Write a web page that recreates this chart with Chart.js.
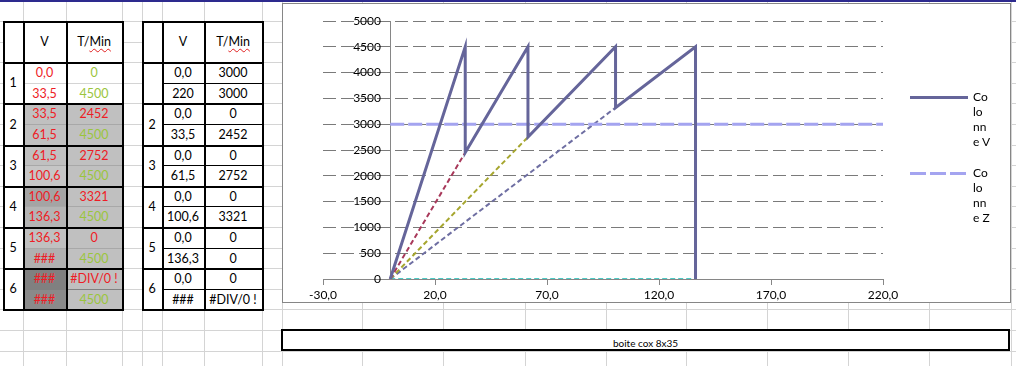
<!DOCTYPE html>
<html>
<head>
<meta charset="utf-8">
<script src="https://cdn.jsdelivr.net/npm/chart.js@4/dist/chart.umd.min.js"></script>
<style>
  body { margin: 0; background: #fff; font-family: Lato, "Noto Sans", sans-serif; }
  #sheet { position: relative; width: 1016px; height: 366px; overflow: hidden; background: #fff; }
  .ln { position: absolute; }
  .cell { position: absolute; display: flex; align-items: center; justify-content: center;
          font-size: 12.5px; color: #000; white-space: nowrap; }
  .sp { text-decoration: underline wavy #e02020; text-decoration-thickness: 1px; text-underline-offset: 2px; }
  #chartBox { position: absolute; left: 282px; top: 3px; width: 727px; height: 298px;
              border: 1px solid #868686; background: #fff; }
  #chartBox canvas { position: absolute; left: 0; top: 0; }
  .leg { position: absolute; font-size: 12px; line-height: 15px; color: #000; }
  #note { position: absolute; left: 281px; top: 329px; width: 725px; height: 18px;
          border: 2px solid #000; background: #fff; font-size: 10px; text-align: center; line-height: 24px; }
</style>
</head>
<body>
<div id="sheet">
  <div id="chartBox"><canvas id="chart" width="727" height="298"></canvas></div>
  <div id="note">boite cox 8x35</div>
</div>
<script>
// --- table contents (left: Colonne V source, right: ray end points) ---
const leftV = ['0,0', '33,5', '33,5', '61,5', '61,5', '100,6', '100,6', '136,3', '136,3', '###', '###', '###'];
const leftT = ['0', '4500', '2452', '4500', '2752', '4500', '3321', '4500', '0', '4500', '#DIV/0 !', '4500'];
const rightV = ['0,0', '220', '0,0', '33,5', '0,0', '61,5', '0,0', '100,6', '0,0', '136,3', '0,0', '###'];
const rightT = ['3000', '3000', '0', '2452', '0', '2752', '0', '3321', '0', '0', '0', '#DIV/0 !'];
const leftNums = ['1', '2', '3', '4', '5', '6'];
const rightNums = ['', '2', '3', '4', '5', '6'];

// --- chart data ---
const vSpeed = [0, 33.5, 33.5, 61.5, 61.5, 100.6, 100.6, 136.3, 136.3];
const vRpm = [0, 4500, 2452, 4500, 2752, 4500, 3321, 4500, 0];
const zSpeed = [0, 220];
const zRpm = [3000, 3000];
const rayStartSpeed = [0, 0, 0, 0];
const rayStartRpm = [0, 0, 0, 0];
const rayEndSpeed = [33.5, 61.5, 100.6, 136.3];
const rayEndRpm = [2452, 2752, 3321, 0];
const xTicks = [-30, 20, 70, 120, 170, 220];
const yStep = 500;
const legendLabels = ['Colonne V', 'Colonne Z'];

const RED = '#ee1c25', GREEN = '#9bc53d';
const sheet = document.getElementById('sheet');

// spreadsheet gridlines
const colLines = [23, 66, 122, 142, 162, 204, 262, 282, 362, 443, 525, 606, 686, 767, 848, 929, 1011];
const rowY = k => 21.5 + 20.6 * k;
const grid = document.createElement('div');
sheet.insertBefore(grid, sheet.firstChild);
function gline(x, y, w, h, c) {
  const d = document.createElement('div');
  d.className = 'ln';
  Object.assign(d.style, { left: x + 'px', top: y + 'px', width: w + 'px', height: h + 'px', background: c });
  grid.appendChild(d);
}
colLines.forEach(x => gline(x, 0, 1, 366, '#d4d4d4'));
for (let k = -1; k < 17; k++) gline(0, Math.floor(rowY(k)), 1016, 1, '#d4d4d4');
gline(0, 0, 1016, 2, '#2d2a8e');

// tables
function makeTable(cols, nums, vs, ts, opts) {
  const top = Math.floor(rowY(0)), bot = Math.floor(rowY(14));
  const layer = document.createElement('div');
  sheet.insertBefore(layer, document.getElementById('chartBox'));
  const add = (x, y, w, h, bg, txt, color) => {
    const d = document.createElement('div');
    d.className = 'cell';
    Object.assign(d.style, { left: x + 'px', top: y + 'px', width: w + 'px', height: h + 'px' });
    if (bg) d.style.background = bg;
    if (color) d.style.color = color;
    d.innerHTML = txt || '';
    layer.appendChild(d);
  };
  // header
  add(cols[0], top, cols[3] - cols[0], Math.floor(rowY(2)) - top, '#fff', '');
  add(cols[1], top, cols[2] - cols[1], Math.floor(rowY(2)) - top, null, 'V');
  add(cols[2], top, cols[3] - cols[2], Math.floor(rowY(2)) - top, null, 'T/<span class="sp">Min</span>');
  for (let i = 0; i < 12; i++) {
    const y0 = Math.floor(rowY(i + 2)), y1 = Math.floor(rowY(i + 3));
    add(cols[1], y0, cols[2] - cols[1], y1 - y0, opts.vFill[i], vs[i], opts.vColor[i]);
    add(cols[2], y0, cols[3] - cols[2], y1 - y0, opts.tFill[i], ts[i], opts.tColor[i]);
  }
  for (let g = 0; g < 6; g++) {
    const y0 = Math.floor(rowY(2 + 2 * g)), y1 = Math.floor(rowY(4 + 2 * g));
    add(cols[0], y0, cols[1] - cols[0], y1 - y0, '#fff', nums[g]);
  }
  const line = (x, y, w, h, c) => {
    const d = document.createElement('div');
    d.className = 'ln';
    Object.assign(d.style, { left: x + 'px', top: y + 'px', width: w + 'px', height: h + 'px', background: c });
    layer.appendChild(d);
  };
  for (let g = 0; g < 6; g++) {
    line(cols[1], Math.floor(rowY(3 + 2 * g)), cols[3] - cols[1], 1, opts.inner[g]);
  }
  for (let k = 0; k <= 14; k += 2) line(cols[0], Math.floor(rowY(k)), cols[3] - cols[0] + 2, 2, '#000');
  cols.forEach(x => line(x, top, 2, bot - top + 2, '#000'));
}

const g1 = '#c0c0c0';
makeTable([3, 23, 66, 122], leftNums, leftV, leftT, {
  vFill: [null, null, g1, g1, g1, '#c6c6c6', '#a4a4a4', '#b4b4b4', '#c0c0c0', '#b0b0b0', '#808080', '#8a8a8a'],
  tFill: [null, null, g1, g1, g1, g1, g1, g1, g1, g1, g1, g1],
  vColor: Array(12).fill(RED),
  tColor: [GREEN, GREEN, RED, GREEN, RED, GREEN, RED, GREEN, RED, GREEN, RED, GREEN],
  inner: ['#d4d4d4', '#a8a8a8', '#a8a8a8', '#a8a8a8', '#a8a8a8', '#808080']
});
makeTable([142, 162, 204, 262], rightNums, rightV, rightT, {
  vFill: Array(12).fill('#fff'), tFill: Array(12).fill('#fff'),
  vColor: Array(12).fill('#000'), tColor: Array(12).fill('#000'),
  inner: Array(6).fill('#000')
});

// chart
const pts = (xs, ys) => xs.map((x, i) => ({ x: x, y: ys[i] }));
const rayColors = ['#a8385a', '#a6a62e', '#6e6ea2', '#4ccac4'];
const datasets = [
  { label: legendLabels[0], data: pts(vSpeed, vRpm), borderColor: '#65659a', borderWidth: 3 },
  { label: legendLabels[1], data: pts(zSpeed, zRpm), borderColor: '#a4a4f0', borderWidth: 3, borderDash: [14, 4] }
];
rayEndSpeed.forEach((s, i) => {
  datasets.push({
    label: 'ray' + i,
    data: pts([rayStartSpeed[i], s], [rayStartRpm[i], rayEndRpm[i]]),
    borderColor: rayColors[i], borderWidth: 2, borderDash: [5, 3]
  });
});
datasets.forEach(d => { d.showLine = true; d.pointRadius = 0; d.fill = false; d.tension = 0; });

const tickFont = { family: 'Lato', size: 12 };
new Chart(document.getElementById('chart'), {
  type: 'scatter',
  data: { datasets: datasets },
  options: {
    responsive: false,
    animation: false,
    layout: { padding: { left: 40, right: 127, top: 17, bottom: 0 } },
    plugins: { legend: { display: false }, tooltip: { enabled: false } },
    scales: {
      x: {
        type: 'linear', min: -30, max: 220,
        afterBuildTicks: s => { s.ticks = xTicks.map(v => ({ value: v })); },
        afterFit: s => { s.height = 23; },
        grid: { drawOnChartArea: false, color: '#868686', tickLength: 6 },
        border: { color: '#868686' },
        ticks: { padding: 3, color: '#000', font: tickFont, maxRotation: 0,
                 callback: v => v.toFixed(1).replace('.', ',') }
      },
      y: {
        type: 'linear', min: 0, max: 5000,
        position: { x: 0 },
        afterFit: s => { s.width = 0; },
        grid: { color: '#7a7a7a', tickLength: 10 },
        border: { color: '#868686', dash: [13, 5] },
        // trailing spaces keep the labels clear of the axis, as in the sheet
        ticks: { stepSize: yStep, color: '#000', font: tickFont, callback: v => String(v) + '   ' }
      }
    }
  }
});

// legend (Excel wraps the long labels in a narrow column)
function legendEntry(i, y, sample) {
  const s = document.createElement('div');
  s.className = 'ln';
  Object.assign(s.style, { left: '910px', top: (y - 1) + 'px', width: '58px', height: '3px', background: sample });
  sheet.appendChild(s);
  const t = document.createElement('div');
  t.className = 'leg';
  const lab = legendLabels[i];
  t.innerHTML = [lab.slice(0, 2), lab.slice(2, 4), lab.slice(4, 6), lab.slice(6)].join('<br>');
  Object.assign(t.style, { left: '973px', top: (y - 8) + 'px' });
  sheet.appendChild(t);
}
legendEntry(0, 97, '#65659a');
legendEntry(1, 173, 'repeating-linear-gradient(to right, #a4a4f0 0 16px, transparent 16px 20px)');
</script>
</body>
</html>
